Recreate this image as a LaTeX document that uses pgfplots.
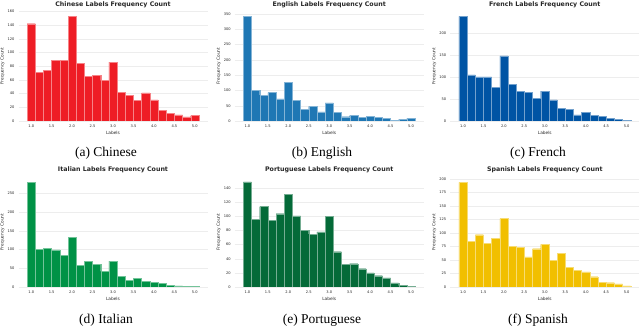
\documentclass[border=0pt]{standalone}
\usepackage{fontspec}
\setmainfont{DejaVu Sans}
\newfontfamily\capfont{Liberation Serif}
\usepackage{pgfplots}
\usepackage{pgfplotstable}
\pgfplotsset{compat=1.18}

\definecolor{zhc}{RGB}{238,29,37}
\definecolor{enc}{RGB}{31,119,180}
\definecolor{frc}{RGB}{0,84,164}
\definecolor{itc}{RGB}{0,146,70}
\definecolor{ptc}{RGB}{4,106,56}
\definecolor{esc}{RGB}{241,191,0}
\definecolor{txt}{RGB}{38,38,38}

% left bin edges (width 0.2), last row closes the final bin
\pgfplotstableread{
x    zh  en  fr  it  pt  es
0.9  142 343 238 280 149 194
1.1  71  100 105 100 96  85
1.3  74  85  100 103 114 97
1.5  89  93  100 99  95  81
1.7  89  72  77  84  104 90
1.9  153 126 148 133 131 127
2.1  84  67  84  58  101 76
2.3  65  38  68  69  80  74
2.5  67  48  65  61  75  56
2.7  59  30  52  42  78  71
2.9  86  59  68  69  100 79
3.1  42  28  48  28  50  50
3.3  37  14  29  17  32  62
3.5  30  18  26  24  33  36
3.7  41  11  14  15  26  31
3.9  31  16  20  13  20  28
4.1  16  11  13  10  16  19
4.3  11  9   11  4   13  9
4.5  9   3   6   3   6   8
4.7  6   5   4   2   2   6
4.9  8   9   2   2   1   2
5.1  8   9   2   2   1   2
}\hist

\pgfplotsset{
  panel/.style={
    anchor=south west,
    scale only axis,
    width=189pt, height=110pt,
    xmin=0.69, xmax=5.31, ymin=0,
    axis line style={draw=none},
    major tick length=0pt,
    xtick={1,1.5,2,2.5,3,3.5,4,4.5,5},
    xticklabels={1.0,1.5,2.0,2.5,3.0,3.5,4.0,4.5,5.0},
    ymajorgrids,
    grid style={line width=0.4pt, draw=black!7},
    tick label style={font=\fontsize{3.6}{4}\selectfont, text=txt},
    xticklabel style={yshift=-0.3pt},
    yticklabel style={xshift=-0.5pt},
    /pgf/number format/assume math mode=true,
    % the default title style already shifts up by 6pt
    title style={font=\fontsize{6.3}{7}\selectfont\bfseries, text=txt,
      at={(axis description cs:0.5,1)}, anchor=center, inner sep=0pt, yshift=0.4pt},
    xlabel={Labels}, ylabel={Frequency Count},
    label style={font=\fontsize{4.3}{5}\selectfont, text=txt},
    xlabel style={at={(axis description cs:0.5,-0.108)}, anchor=center},
    ylabel style={at={(axis description cs:-0.085,0.5)}, anchor=center, rotate=0},
  },
  bars/.style={ybar interval, fill=#1, draw=#1!55!white, line width=0.3pt},
}

\begin{document}
\begin{tikzpicture}[x=1pt,y=1pt]
\useasboundingbox (0,0) rectangle (640,328);

\begin{axis}[panel, at={(18.5pt,207pt)}, ymax=160.6,
  ytick={0,20,40,60,80,100,120,140,160},
  title={Chinese Labels Frequency Count}]
  \addplot[bars=zhc] table[x=x, y=zh] {\hist};
\end{axis}

\begin{axis}[panel, at={(234.7pt,207pt)}, ymax=360,
  ytick={0,50,100,150,200,250,300,350},
  title={English Labels Frequency Count}]
  \addplot[bars=enc] table[x=x, y=en] {\hist};
\end{axis}

\begin{axis}[panel, at={(450.3pt,207pt)}, ymax=250,
  ytick={0,50,100,150,200},
  title={French Labels Frequency Count}]
  \addplot[bars=frc] table[x=x, y=fr] {\hist};
\end{axis}

\begin{axis}[panel, at={(18.5pt,41pt)}, ymax=294,
  ytick={0,50,100,150,200,250},
  title style={yshift=1.3pt},
  title={Italian Labels Frequency Count}]
  \addplot[bars=itc] table[x=x, y=it] {\hist};
\end{axis}

\begin{axis}[panel, at={(234.7pt,41pt)}, ymax=156,
  ytick={0,20,40,60,80,100,120,140},
  title style={yshift=1.3pt},
  title={Portuguese Labels Frequency Count}]
  \addplot[bars=ptc] table[x=x, y=pt] {\hist};
\end{axis}

\begin{axis}[panel, at={(450.3pt,41pt)}, ymax=204,
  ytick={0,25,50,75,100,125,150,175,200},
  title style={yshift=1.3pt},
  title={Spanish Labels Frequency Count}]
  \addplot[bars=esc] table[x=x, y=es] {\hist};
\end{axis}

% sub-figure captions
\begin{scope}[every node/.style={font=\fontsize{13.5}{14}\capfont}]
  \node at (106,175) {(a) Chinese};
  \node at (322,175) {(b) English};
  \node at (538,175) {(c) French};
  \node at (106,8) {(d) Italian};
  \node at (322,8) {(e) Portuguese};
  \node at (538,8) {(f) Spanish};
\end{scope}
\end{tikzpicture}
\end{document}
